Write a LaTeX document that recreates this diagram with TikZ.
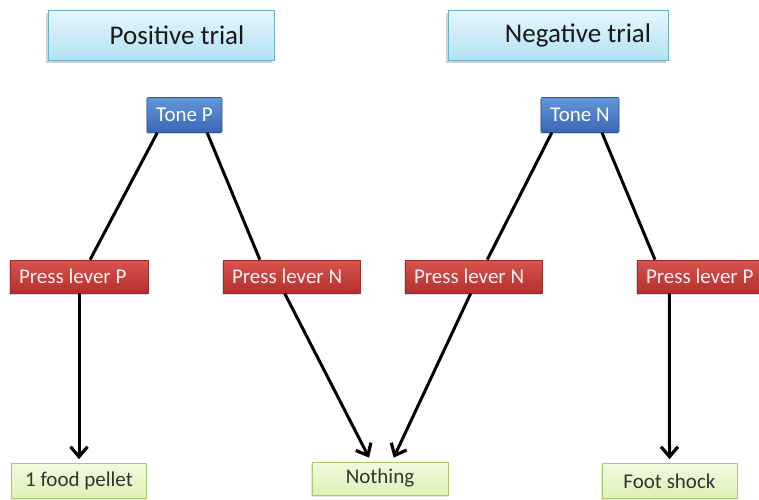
\documentclass[tikz,border=0pt]{standalone}
\usepackage{fontspec}
\setmainfont{Carlito}
\usetikzlibrary{calc,arrows.meta,shadows}
\definecolor{titletop}{HTML}{E6F7FD}
\definecolor{titlebot}{HTML}{B3E2F3}
\definecolor{titleline}{HTML}{6AAFCF}
\definecolor{tonetop}{HTML}{6396DB}
\definecolor{tonebot}{HTML}{3A67B3}
\definecolor{toneline}{HTML}{2E5597}
\definecolor{presstop}{HTML}{D8534F}
\definecolor{pressbot}{HTML}{B5302D}
\definecolor{pressline}{HTML}{A02B28}
\definecolor{restop}{HTML}{F2FBDF}
\definecolor{resbot}{HTML}{DDF1B4}
\definecolor{resline}{HTML}{A9CB6C}
\newcommand{\leftbox}[2]{\makebox[#1][l]{#2}}
\tikzset{
  titlebox/.style={draw=titleline, line width=0.8pt, top color=titletop, bottom color=titlebot,
    minimum height=50pt, inner sep=0pt, text=black!90,
    font=\fontsize{27}{30}\selectfont,
    drop shadow={shadow xshift=-2pt, shadow yshift=-2.5pt, opacity=0.35}},
  tonebox/.style={draw=toneline, line width=0.6pt, top color=tonetop, bottom color=tonebot,
    minimum height=35pt, inner sep=0pt, text=white, rounded corners=1pt,
    font=\fontsize{21}{24}\selectfont,
    drop shadow={shadow xshift=-1pt, shadow yshift=-1.5pt, opacity=0.3}},
  pressbox/.style={draw=pressline, line width=0.6pt, top color=presstop, bottom color=pressbot,
    minimum height=33pt, inner ysep=0pt, inner xsep=9pt,
    text=white!95!red,
    font=\fontsize{21}{24}\selectfont,
    drop shadow={shadow xshift=-1pt, shadow yshift=-1.5pt, opacity=0.3}},
  resbox/.style={draw=resline, line width=0.7pt, top color=restop, bottom color=resbot,
    minimum height=35pt, inner sep=0pt, text=black!80,
    font=\fontsize{21}{24}\selectfont,
    drop shadow={shadow xshift=-1pt, shadow yshift=-1.5pt, opacity=0.2}},
  link/.style={line width=3pt, black},
  arr/.style={line width=3pt, black, -{Straight Barb[length=10pt,width=17pt,line width=3.2pt]}}
}
\begin{document}
\begin{tikzpicture}[x=1pt,y=-1pt]
\useasboundingbox (0,0) rectangle (759,499);
\node[titlebox, minimum width=226pt] (posT) at (161,35) {\hspace*{32pt}Positive trial};
\node[titlebox, minimum width=220pt] (negT) at (558,35) {\hspace*{40pt}Negative trial};
\node[tonebox, minimum width=75pt] (toneP) at (184.5,115) {Tone P};
\node[tonebox, minimum width=78pt] (toneN) at (580,115) {Tone N};
\node[pressbox] (pl1) at (79,276.5) {\leftbox{120pt}{Press lever P}};
\node[pressbox] (pl2) at (291.5,276.5) {\leftbox{119pt}{Press lever N}};
\node[pressbox] (pl3) at (473.5,276.5) {\leftbox{119pt}{Press lever N}};
\node[pressbox] (pl4) at (702,276.5) {\leftbox{112pt}{Press lever P}};
\node[resbox, minimum width=135pt] (food) at (79,481) {1 food pellet};
\node[resbox, minimum width=136pt, minimum height=33pt] (nothing) at (380,478.5) {Nothing};
\node[resbox, minimum width=135pt] (foot) at (669.5,481) {Foot shock};
% tone -> press
\draw[link] ($(toneP.south west)!0.14!(toneP.south east)$) -- ($(pl1.north west)!0.58!(pl1.north east)$);
\draw[link] ($(toneP.south west)!0.80!(toneP.south east)$) -- ($(pl2.north west)!0.27!(pl2.north east)$);
\draw[link] ($(toneN.south west)!0.14!(toneN.south east)$) -- ($(pl3.north west)!0.60!(pl3.north east)$);
\draw[link] ($(toneN.south west)!0.78!(toneN.south east)$) -- ($(pl4.north west)!0.14!(pl4.north east)$);
% press -> outcome
\draw[arr] (pl1.south) -- ($(food.north)+(0,-4)$);
\draw[arr] ($(pl2.south west)!0.45!(pl2.south east)$) -- ($(nothing.north west)!0.42!(nothing.north east)+(0,-4)$);
\draw[arr] ($(pl3.south west)!0.48!(pl3.south east)$) -- ($(nothing.north west)!0.60!(nothing.north east)+(0,-4)$);
\draw[arr] ($(pl4.south west)!0.25!(pl4.south east)$) -- ($(foot.north)+(0,-4)$);
\end{tikzpicture}
\end{document}
